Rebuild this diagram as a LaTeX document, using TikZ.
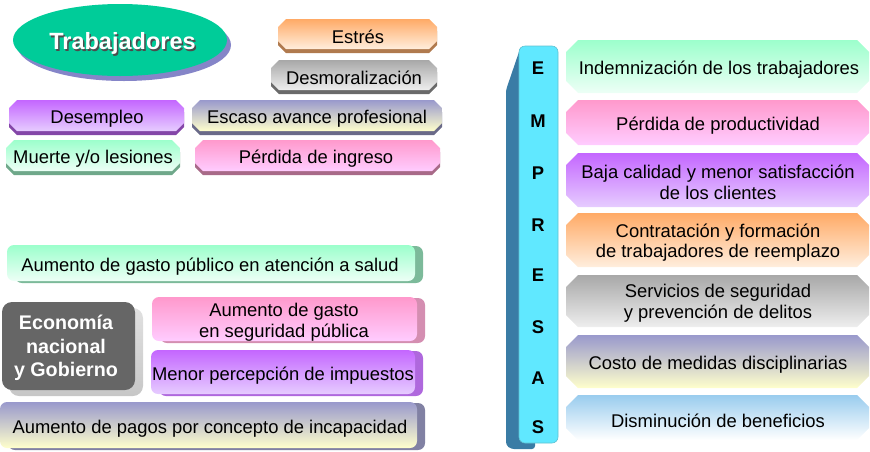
\documentclass[tikz,border=0pt]{standalone}
\usepackage{fontspec}
\setmainfont{Liberation Sans}
\newcommand\fs{\fontsize{18.4}{20.6}\selectfont}
\newcommand\octpath[5]{(#1+#5,#2) -- (#3-#5,#2) -- (#3,#2+#5) -- (#3,#4-#5) -- (#3-#5,#4) -- (#1+#5,#4) -- (#1,#4-#5) -- (#1,#2+#5) -- cycle}
% top-left bevelled boxes: x1 y1 x2 y2 topcolour bottomcolour depthcolour
\newcommand\bevbox[7]{%
  \fill[#7] \octpath{#1}{#2+4}{#3}{#4}{8};
  \shade[top color=#5,bottom color=#6] \octpath{#1}{#2}{#3}{#4-4}{8};}
% right column octagons
\newcommand\octbox[6]{%
  \shade[top color=#5,bottom color=#6] \octpath{#1}{#2}{#3}{#4}{12};}
% bottom-left boxes with depth on the right
\newcommand\sidebox[7]{%
  \fill[#7,rounded corners=7] (#1+8,#2+1) rectangle (#3+8,#4+2);
  \shade[top color=#5,bottom color=#6,rounded corners=7] (#1,#2) rectangle (#3,#4);}
\definecolor{mintT}{HTML}{9CFFCC}\definecolor{mintB}{HTML}{EDFFF6}\definecolor{mintD}{HTML}{6FA88A}
\definecolor{pinkT}{HTML}{FF99CC}\definecolor{pinkB}{HTML}{FFCCFF}\definecolor{pinkD}{HTML}{A86A88}
\definecolor{purT}{HTML}{C466FF}\definecolor{purB}{HTML}{E6CCFF}\definecolor{purD}{HTML}{8446A8}
\definecolor{oraT}{HTML}{FFAA66}\definecolor{oraB}{HTML}{FFEEDD}\definecolor{oraD}{HTML}{B07A4E}
\definecolor{grayT}{HTML}{A8A8A8}\definecolor{grayB}{HTML}{EEEEEE}\definecolor{grayD}{HTML}{6A6A6A}
\definecolor{blyT}{HTML}{9999CC}\definecolor{blyB}{HTML}{FFFFCC}\definecolor{blyD}{HTML}{6A6A88}
\definecolor{lbT}{HTML}{99CCEE}\definecolor{lbB}{HTML}{FFFFFF}
\definecolor{teal}{HTML}{00CC99}\definecolor{ellsh}{HTML}{8585C8}
\definecolor{cyanF}{HTML}{60E8FF}\definecolor{cyanS}{HTML}{3A7CA5}
\begin{document}
\begin{tikzpicture}[x=1pt,y=-1pt,
  txt/.style={font=\fs,align=center,inner sep=0pt,text=black,yshift=-2.5pt},
  btxt/.style={font=\fs\bfseries,inner sep=0pt,text=black}]
\useasboundingbox (0,0) rectangle (870,451);
% Trabajadores
\fill[ellsh] (124,45) ellipse [x radius=107, y radius=36];
\fill[teal] (120,40) ellipse [x radius=107, y radius=36];
\node[font=\fontsize{23.5}{26}\selectfont\bfseries,text=black!70,inner sep=0] (trs) at (124,45) {Trabajadores};
\node[font=\fontsize{23.5}{26}\selectfont\bfseries,text=white,inner sep=0] (tr) at (122.5,43.5) {Trabajadores};
% top-left boxes
\bevbox{278}{19}{437}{53}{oraT}{oraB}{oraD}
\node[txt] (estres) at (358,34) {Estrés};
\bevbox{271}{60}{437}{94}{grayT}{grayB}{grayD}
\node[txt] (desmo) at (354,75) {Desmoralización};
\bevbox{9}{100}{184}{135}{purT}{purB}{purD}
\node[txt] (desem) at (97,116) {Desempleo};
\bevbox{192}{100}{442}{135}{blyT}{blyB}{blyD}
\node[txt] (escaso) at (317,116) {Escaso avance profesional};
\bevbox{6}{140}{180}{175}{mintT}{mintB}{mintD}
\node[txt] (muerte) at (93,156) {Muerte y/o lesiones};
\bevbox{195}{140}{440}{175}{pinkT}{pinkB}{pinkD}
\node[txt] (ingreso) at (316,156) {Pérdida de ingreso};
% bottom-left boxes
\sidebox{7}{245}{415}{281}{mintT}{mintB}{mintT!70!black!90}
\node[txt] (salud) at (210,264) {Aumento de gasto público en atención a salud};
\sidebox{152}{297}{417}{341}{pinkT}{pinkB}{pinkT!80!black!85}
\node[txt] (segur) at (284,320) {Aumento de gasto\\en seguridad pública};
\sidebox{151}{350}{415}{394}{purT}{purB}{purT!85!black!90}
\node[txt] (impu) at (283,373) {Menor percepción de impuestos};
\sidebox{0}{402}{417}{448}{blyT}{blyB}{blyT!75!black!90}
\node[txt] (incap) at (210,426) {Aumento de pagos por concepto de incapacidad};
% Economia nacional y Gobierno
\shade[top color=black!12,bottom color=black!22,rounded corners=10] (9,308) rectangle (143,396);
\fill[black!60,rounded corners=10] (2,302) rectangle (135,390);
\node[font=\fontsize{19.7}{23.5}\selectfont\bfseries,text=white,align=center,inner sep=0] (econ) at (66,348) {Economía\\nacional\\y Gobierno};
% EMPRESAS bar
\fill[cyanS,rounded corners=3] (521,46) -- (506,90) -- (506,445) -- (511,449) -- (535,449) -- (535,440) -- cycle;
\fill[cyanF,draw=cyanF!80!black!90,line width=0.6pt,rounded corners=6] (519,46) rectangle (558,443);
\foreach \l/\yy/\nm in {E/68/e1,M/121/e2,P/173/e3,R/225/e4,E/275/e5,S/327/e6,A/378/e7,S/427/e8}
  \node[btxt] (\nm) at (538,\yy) {\l};
% right column
\octbox{566}{40}{869}{93}{mintT}{mintB}
\node[txt] (indem) at (719,67) {Indemnización de los trabajadores};
\octbox{566}{100}{869}{145}{pinkT}{pinkB}
\node[txt] (prod) at (718,123) {Pérdida de productividad};
\octbox{566}{153}{869}{207}{purT}{purB}
\node[txt] (calid) at (718,180) {Baja calidad y menor satisfacción\\de los clientes};
\octbox{566}{213}{869}{267}{oraT}{oraB}
\node[txt] (contr) at (718,240) {Contratación y formación\\de trabajadores de reemplazo};
\octbox{566}{275}{869}{327}{grayT}{grayB}
\node[txt] (serv) at (718,301) {Servicios de seguridad\\y prevención de delitos};
\octbox{566}{335}{869}{388}{blyT}{blyB}
\node[txt] (costo) at (718,362) {Costo de medidas disciplinarias};
\octbox{566}{395}{869}{440}{lbT}{lbB}
\node[txt] (benef) at (718,418) {Disminución de beneficios};
\end{tikzpicture}
\end{document}
